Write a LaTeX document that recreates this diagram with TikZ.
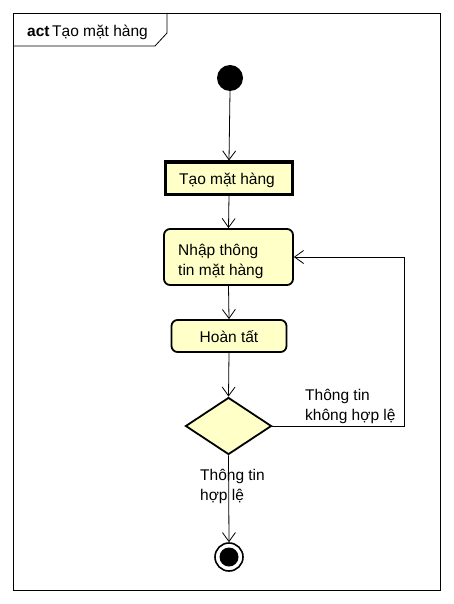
\documentclass[tikz,border=0pt]{standalone}
\usepackage{fontspec}
\setmainfont{Liberation Sans}
\usetikzlibrary{arrows.meta,shapes.geometric}
\definecolor{actfill}{RGB}{255,255,200}
\tikzset{
  txt/.style={inner sep=0pt, font=\fontsize{15.5}{20}\selectfont},
  actbox/.style={draw, fill=actfill, line width=1.8pt, rounded corners=6pt},
  flow/.style={draw, line width=0.8pt, -{Straight Barb[length=9pt,width=13pt,line width=0.8pt]}},
}
\begin{document}
\begin{tikzpicture}[x=1pt,y=-1pt]
\useasboundingbox (0,0) rectangle (453,604);
\fill[white] (0,0) rectangle (453,604);
% frame
\node[draw, line width=0.8pt, minimum width=427pt, minimum height=577pt, inner sep=0pt] (frame) at (226.5,301.5) {};
\draw[line width=0.8pt] (13,46) -- (155,46) -- (167,33) -- (167,13);
\node[txt, anchor=base west] (title) at (27,37) {\textbf{act}\,Tạo mặt hàng};
% initial
\node[circle, fill=black, minimum size=26pt, inner sep=0pt] (start) at (230,78) {};
% Tao mat hang
\node[draw, fill=actfill, line width=3pt, minimum width=127pt, minimum height=32pt, inner sep=0pt] (tao) at (229,178) {};
\node[txt, anchor=base] (taot) at (227,184) {Tạo mặt hàng};
% Nhap
\node[actbox, minimum width=129pt, minimum height=56pt, inner sep=0pt] (nhap) at (228.5,257) {};
\node[txt, anchor=base west] (nhap1) at (178,255) {Nhập thông};
\node[txt, anchor=base west] (nhap2) at (178,275) {tin mặt hàng};
% Hoan tat
\node[actbox, minimum width=115pt, minimum height=32pt, inner sep=0pt] (hoan) at (229,336) {};
\node[txt, anchor=base] (hoant) at (229,342) {Hoàn tất};
% decision
\node[diamond, draw, fill=actfill, line width=1.8pt, minimum width=86pt, minimum height=57pt, inner sep=0pt, aspect=1.5] (dec) at (228.5,426) {};
% final
\node[circle, draw, line width=1.6pt, fill=white, minimum size=28pt, inner sep=0pt] (end) at (229,557) {};
\node[circle, fill=black, minimum size=19pt, inner sep=0pt] (endi) at (229,557) {};
% flows
\draw[flow] (start.south) -- (tao.north);
\draw[flow] (tao.south) -- (nhap.north);
\draw[flow] (nhap.south) -- (hoan.north);
\draw[flow] (hoan.south) -- (dec.north);
\draw[flow] (dec.south) -- (end.north);
\coordinate (c1) at (404,426);
\coordinate (c2) at (404,257);
\draw[flow] (dec.east) -- (c1) -- (c2) -- (nhap.east);
% labels
\node[txt, anchor=base west] (l1a) at (305,400) {Thông tin};
\node[txt, anchor=base west] (l1b) at (305,420) {không hợp lệ};
\node[txt, anchor=base west] (l2a) at (200,480) {Thông tin};
\node[txt, anchor=base west] (l2b) at (200,500) {hợp lệ};
\end{tikzpicture}
\end{document}
